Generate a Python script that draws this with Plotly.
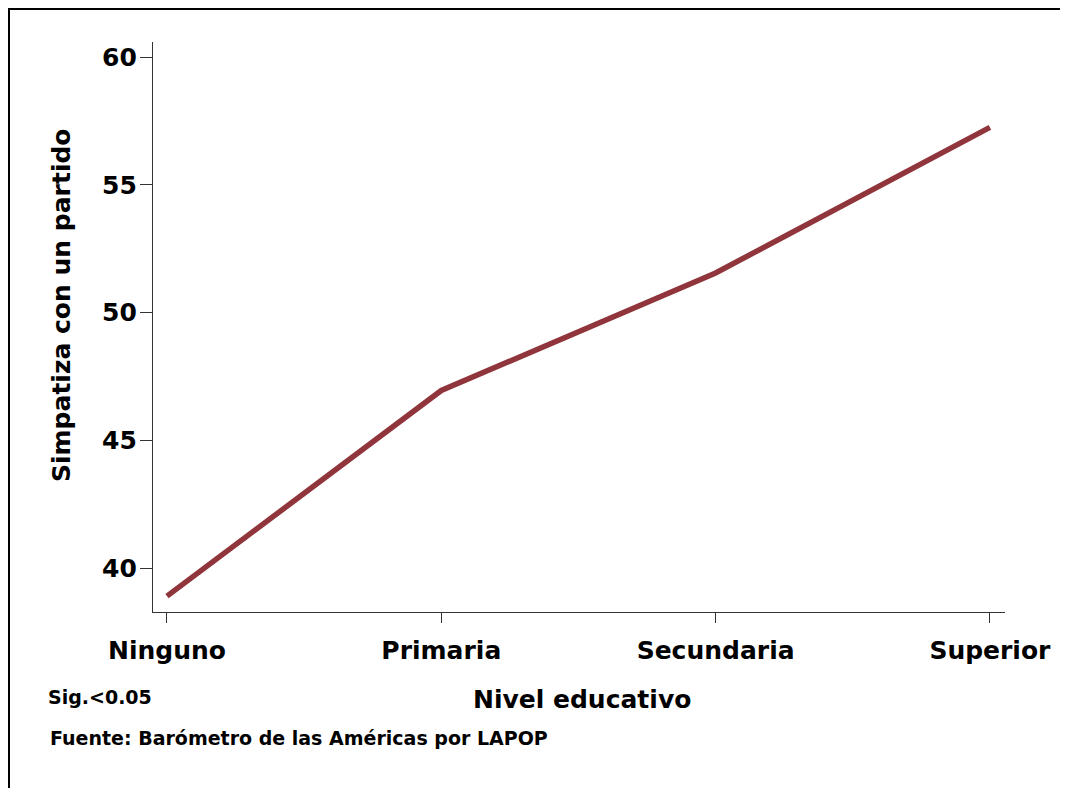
import plotly.graph_objects as go

categories = ["Ninguno", "Primaria", "Secundaria", "Superior"]
values = [38.9, 46.95, 51.55, 57.25]
y_ticks = [40, 45, 50, 55, 60]

# page body adds an 8px offset; work in screen pixels and subtract it
OFF = 8
W, H = 1068 - OFF, 788 - OFF
PL, PR, PT, PB = 153, 1005, 42, 612  # plot area in screen pixels
L, T = PL - OFF, PT - OFF
R, B = W - (PR - OFF), H - (PB - OFF)
PW, PH = PR - PL, PB - PT

def px(x):
    return (x - PL) / PW

def py(y):
    return (PB - y) / PH

FONT = "DejaVu Sans"

fig = go.Figure()
fig.add_trace(go.Scatter(
    x=list(range(len(categories))), y=values, mode="lines",
    line=dict(color="rgb(144,53,59)", width=5.5),
    hoverinfo="skip", showlegend=False,
))

fig.update_layout(
    width=W, height=H,
    margin=dict(l=L, r=R, t=T, b=B, pad=0),
    paper_bgcolor="white", plot_bgcolor="white",
    font=dict(family=FONT, color="black"),
    xaxis=dict(
        tickmode="array", tickvals=list(range(len(categories))), ticktext=categories,
        range=[-0.051, 3.055], showgrid=False, zeroline=False,
        showline=True, linecolor="#333333", linewidth=1.2,
        ticks="outside", ticklen=10, tickcolor="#333333", tickwidth=1.2,
        tickfont=dict(family=FONT, size=25, color="black", weight="bold"),
        ticklabelstandoff=6,
    ),
    yaxis=dict(
        tickmode="array", tickvals=y_ticks, ticktext=[str(v) for v in y_ticks],
        range=[38.28, 60.59], showgrid=False, zeroline=False,
        showline=True, linecolor="#333333", linewidth=1.2,
        ticks="outside", ticklen=12, tickcolor="#333333", tickwidth=1.2,
        tickfont=dict(family=FONT, size=25, color="black", weight="bold"),
        ticklabelstandoff=-2,
    ),
    shapes=[dict(
        type="rect", xref="paper", yref="paper",
        x0=px(9), x1=px(1080), y0=py(800), y1=py(9),
        line=dict(color="black", width=2), fillcolor="rgba(0,0,0,0)", layer="below",
    )],
    annotations=[
        dict(text="Simpatiza con un partido", xref="paper", yref="paper",
             x=px(61), y=py(305), textangle=-90, showarrow=False,
             xanchor="center", yanchor="middle",
             font=dict(family=FONT, size=25, color="black", weight="bold")),
        dict(text="Nivel educativo", xref="paper", yref="paper",
             x=px(582), y=py(699), showarrow=False,
             xanchor="center", yanchor="middle",
             font=dict(family=FONT, size=25, color="black", weight="bold")),
        dict(text="Sig.<0.05", xref="paper", yref="paper",
             x=px(46), y=py(697), showarrow=False,
             xanchor="left", yanchor="middle",
             font=dict(family=FONT, size=19, color="black", weight="bold")),
        dict(text="Fuente: Barómetro de las Américas por LAPOP", xref="paper", yref="paper",
             x=px(48), y=py(738), showarrow=False,
             xanchor="left", yanchor="middle",
             font=dict(family=FONT, size=19, color="black", weight="bold")),
    ],
)

fig.write_html("out.html")
